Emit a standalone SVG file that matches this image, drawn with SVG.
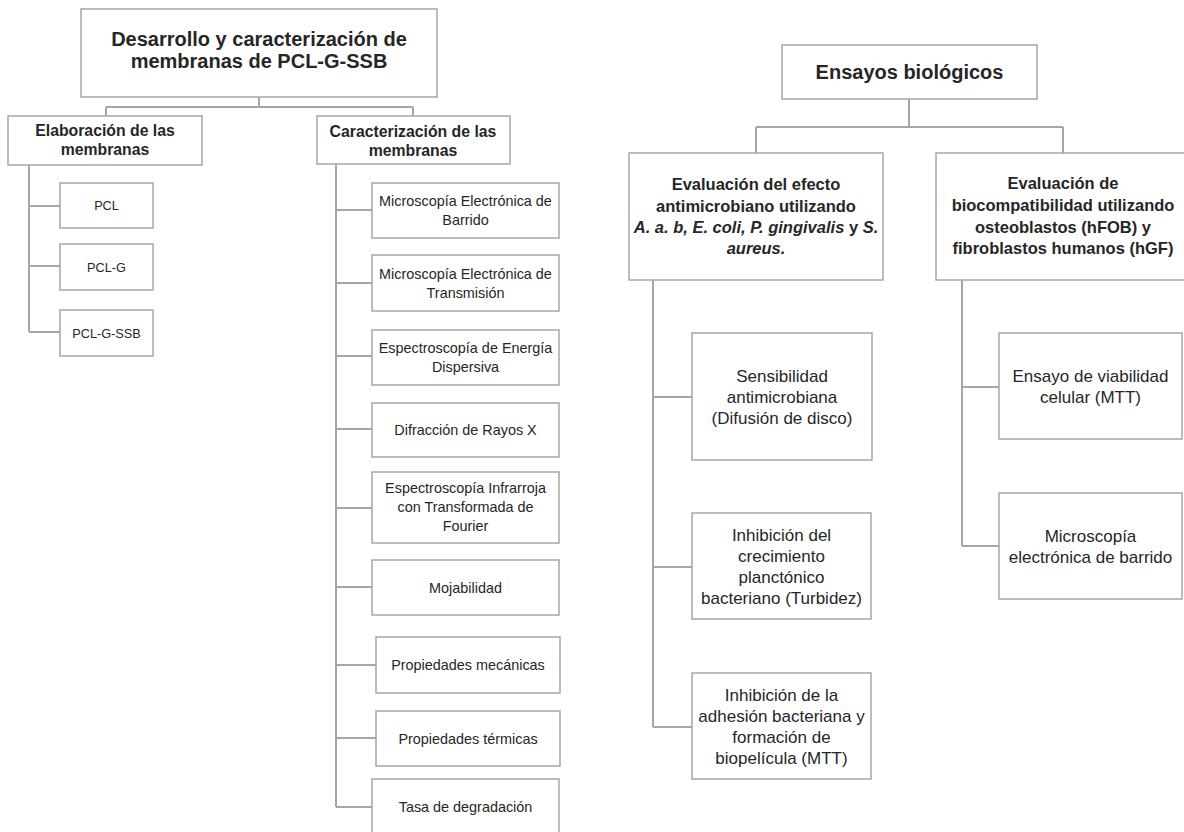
<svg xmlns="http://www.w3.org/2000/svg" width="1184" height="832" viewBox="0 0 1184 832">
<style>
.box{fill:#ffffff;stroke:#a6a6a6;stroke-width:1.5}
.con{fill:none;stroke:#a6a6a6;stroke-width:2}
text{font-family:"Liberation Sans",Arial,sans-serif;fill:#262626;text-anchor:middle}
.t20{font-size:20px;font-weight:bold}
.t16b{font-size:15.8px;font-weight:bold}
.t165b{font-size:16.5px;font-weight:bold}
.t17{font-size:17px}
.t145{font-size:14.4px}
.t127{font-size:12.7px}
.it{font-style:italic}
.up{font-style:normal}
</style>
<rect width="1184" height="832" fill="#ffffff"/>
<g id="connectors">
<path class="con" d="M259 97V107M106 107H413M106 107V116M413 107V116"/>
<path class="con" d="M29 165V332M29 206H60M29 266H60M29 332H60"/>
<path class="con" d="M336 164V807M336 210H372M336 283H372M336 356H372M336 429H372M336 508H372M336 587H372M336 665H376M336 738H376M336 807H372"/>
<path class="con" d="M909 99V127M756 127H1063M756 127V153M1063 127V153"/>
<path class="con" d="M653 280V727M653 397H692M653 567H692M653 727H692"/>
<path class="con" d="M962 280V546M962 387H999M962 546H999"/>
</g>
<g id="n-title">
<rect class="box" x="81" y="9" width="356" height="88"/>
<text class="t20" x="259" y="46">Desarrollo y caracterización de</text>
<text class="t20" x="259" y="68">membranas de PCL-G-SSB</text>
</g>
<g id="n-elab">
<rect class="box" x="8" y="116" width="194" height="49"/>
<text class="t16b" x="105" y="136">Elaboración de las</text>
<text class="t16b" x="105" y="155">membranas</text>
</g>
<g id="n-carac">
<rect class="box" x="317" y="116" width="193" height="48"/>
<text class="t16b" x="413" y="137">Caracterización de las</text>
<text class="t16b" x="413" y="156">membranas</text>
</g>
<g id="n-pcl">
<rect class="box" x="60" y="183" width="93" height="45"/>
<text class="t127" x="106.5" y="210">PCL</text>
</g>
<g id="n-pclg">
<rect class="box" x="60" y="244" width="93" height="46"/>
<text class="t127" x="106.5" y="271.5">PCL-G</text>
</g>
<g id="n-pclgssb">
<rect class="box" x="60" y="310" width="93" height="46"/>
<text class="t127" x="106.5" y="337.5">PCL-G-SSB</text>
</g>
<g id="n-meb">
<rect class="box" x="372" y="183" width="187" height="55"/>
<text class="t145" x="465.5" y="206">Microscopía Electrónica de</text>
<text class="t145" x="465.5" y="225">Barrido</text>
</g>
<g id="n-met">
<rect class="box" x="372" y="255" width="187" height="56"/>
<text class="t145" x="465.5" y="278.5">Microscopía Electrónica de</text>
<text class="t145" x="465.5" y="297.5">Transmisión</text>
</g>
<g id="n-eds">
<rect class="box" x="372" y="330" width="187" height="55"/>
<text class="t145" x="465.5" y="353">Espectroscopía de Energía</text>
<text class="t145" x="465.5" y="372">Dispersiva</text>
</g>
<g id="n-drx">
<rect class="box" x="372" y="403" width="187" height="54"/>
<text class="t145" x="465.5" y="435">Difracción de Rayos X</text>
</g>
<g id="n-ftir">
<rect class="box" x="372" y="472" width="187" height="71"/>
<text class="t145" x="465.5" y="493">Espectroscopía Infrarroja</text>
<text class="t145" x="465.5" y="512">con Transformada de</text>
<text class="t145" x="465.5" y="531">Fourier</text>
</g>
<g id="n-moja">
<rect class="box" x="372" y="560" width="187" height="55"/>
<text class="t145" x="465.5" y="592.5">Mojabilidad</text>
</g>
<g id="n-mec">
<rect class="box" x="376" y="637" width="184" height="56"/>
<text class="t145" x="468" y="670">Propiedades mecánicas</text>
</g>
<g id="n-term">
<rect class="box" x="376" y="711" width="184" height="55"/>
<text class="t145" x="468" y="743.5">Propiedades térmicas</text>
</g>
<g id="n-tasa">
<rect class="box" x="372" y="779" width="187" height="55"/>
<text class="t145" x="465.5" y="811.5">Tasa de degradación</text>
</g>
<g id="n-ensayos">
<rect class="box" x="782" y="45" width="255" height="54"/>
<text class="t20" x="909.5" y="79">Ensayos biológicos</text>
</g>
<g id="n-antimic">
<rect class="box" x="629" y="153" width="254" height="127"/>
<text class="t165b" x="756" y="190">Evaluación del efecto</text>
<text class="t165b" x="756" y="211.5">antimicrobiano utilizando</text>
<text class="t165b" x="756" y="233"><tspan class="it">A. a. b, E. coli, P. gingivalis </tspan><tspan class="up">y</tspan><tspan class="it"> S.</tspan></text>
<text class="t165b it" x="756" y="254">aureus.</text>
</g>
<g id="n-biocomp">
<rect class="box" x="936" y="153" width="254" height="127"/>
<text class="t165b" x="1063" y="189">Evaluación de</text>
<text class="t165b" x="1063" y="211">biocompatibilidad utilizando</text>
<text class="t165b" x="1063" y="232.5">osteoblastos (hFOB) y</text>
<text class="t165b" x="1063" y="254">fibroblastos humanos (hGF)</text>
</g>
<g id="n-sens">
<rect class="box" x="692" y="333" width="180" height="127"/>
<text class="t17" x="782" y="381.5">Sensibilidad</text>
<text class="t17" x="782" y="402.5">antimicrobiana</text>
<text class="t17" x="782" y="423.5">(Difusión de disco)</text>
</g>
<g id="n-inhib1">
<rect class="box" x="692" y="513" width="179" height="106"/>
<text class="t17" x="781.5" y="541">Inhibición del</text>
<text class="t17" x="781.5" y="562">crecimiento</text>
<text class="t17" x="781.5" y="583">planctónico</text>
<text class="t17" x="781.5" y="604">bacteriano (Turbidez)</text>
</g>
<g id="n-inhib2">
<rect class="box" x="692" y="673" width="179" height="106"/>
<text class="t17" x="781.5" y="701">Inhibición de la</text>
<text class="t17" x="781.5" y="722">adhesión bacteriana y</text>
<text class="t17" x="781.5" y="743">formación de</text>
<text class="t17" x="781.5" y="764">biopelícula (MTT)</text>
</g>
<g id="n-mtt">
<rect class="box" x="999" y="333" width="183" height="106"/>
<text class="t17" x="1090.5" y="382">Ensayo de viabilidad</text>
<text class="t17" x="1090.5" y="403">celular (MTT)</text>
</g>
<g id="n-meb2">
<rect class="box" x="999" y="493" width="183" height="106"/>
<text class="t17" x="1090.5" y="542">Microscopía</text>
<text class="t17" x="1090.5" y="563">electrónica de barrido</text>
</g>
</svg>
